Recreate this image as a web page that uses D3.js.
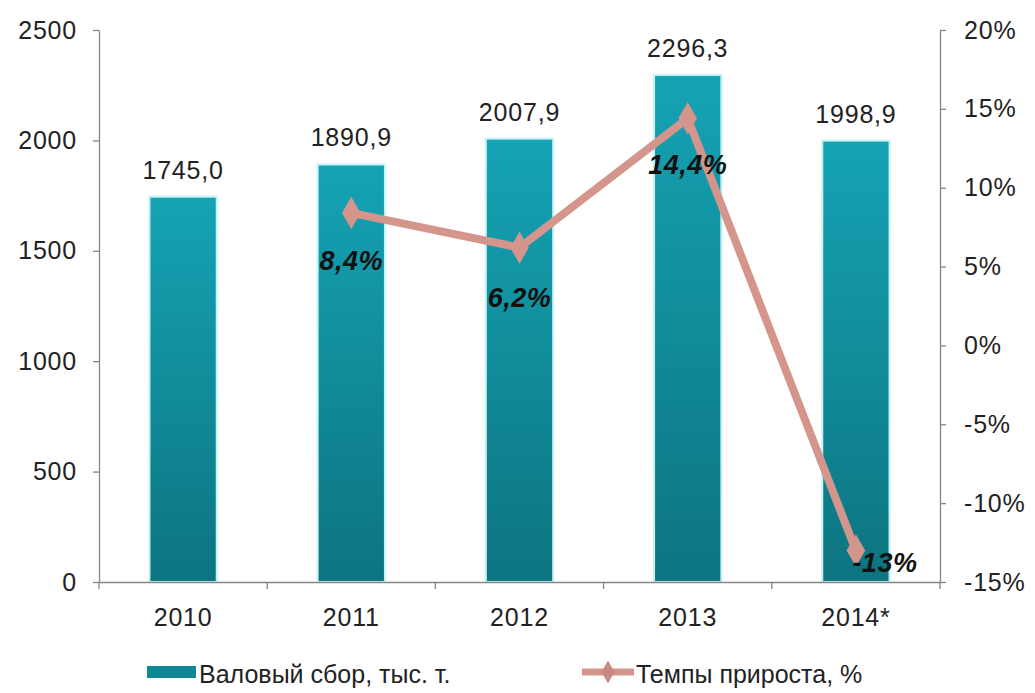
<!DOCTYPE html>
<html lang="ru">
  <head>
    <meta charset="utf-8" />
    <title>Валовый сбор</title>
    <script src="https://d3js.org/d3.v7.min.js"></script>
    <style>
      body {
        margin: 0;
        background: #fff;
      }
      svg {
        display: block;
        font-family: "Liberation Sans", Arial, sans-serif;
      }
      .axis path, .axis line {
        stroke: #868686;
        stroke-width: 1.3;
      }
      .axis text {
        font-size: 25px;
        fill: #222;
        letter-spacing: 0.8px;
      }
      .val {
        font-size: 25px;
        fill: #222;
        letter-spacing: 0.8px;
      }
      .pct {
        font-size: 27px;
        font-weight: bold;
        font-style: italic;
        fill: #111;
        letter-spacing: 0.5px;
      }
      .legend text {
        font-size: 25px;
        fill: #222;
      }
    </style>
  </head>
  <body>
    <svg width="1035" height="693"></svg>
    <script>

    var years = ["2010", "2011", "2012", "2013", "2014*"];
    var harvest = [1745.0, 1890.9, 2007.9, 2296.3, 1998.9];
    var growth = [null, 8.4, 6.2, 14.4, -13];
    var growthLabels = ["", "8,4%", "6,2%", "14,4%", "-13%"];
    var leftTicks = [0, 500, 1000, 1500, 2000, 2500];
    var rightTicks = [-15, -10, -5, 0, 5, 10, 15, 20];

    var svg = d3.select("svg"),
        plotLeft = 99, plotRight = 940, plotTop = 30, plotBottom = 582;

    var x = d3.scaleBand().domain(years).range([plotLeft, plotRight]).paddingInner(0.6).paddingOuter(0.3),
        xb = d3.scaleBand().domain(years).range([plotLeft, plotRight]),
        y = d3.scaleLinear().domain([0, 2500]).range([plotBottom, plotTop]),
        y2 = d3.scaleLinear().domain([-15, 20]).range([plotBottom, plotTop]);

    var defs = svg.append("defs");
    var grad = defs.append("linearGradient")
        .attr("id", "barGrad")
        .attr("x1", 0).attr("y1", 0).attr("x2", 0).attr("y2", 1);
    grad.append("stop").attr("offset", "0%").attr("stop-color", "#15a3b4");
    grad.append("stop").attr("offset", "100%").attr("stop-color", "#0d7480");

    // bars
    svg.append("g").selectAll("rect")
        .data(harvest)
        .enter().append("rect")
        .attr("x", function(d, i) { return x(years[i]); })
        .attr("y", function(d) { return y(d); })
        .attr("width", x.bandwidth())
        .attr("height", function(d) { return y(0) - y(d); })
        .attr("fill", "url(#barGrad)")
        .attr("stroke", "#c4f2f6")
        .attr("stroke-width", 2);

    svg.append("g").selectAll("text")
        .data(harvest)
        .enter().append("text")
        .attr("class", "val")
        .attr("x", function(d, i) { return x(years[i]) + x.bandwidth() / 2; })
        .attr("y", function(d) { return y(d) - 18; })
        .attr("text-anchor", "middle")
        .text(function(d) { return d3.format(".1f")(d).replace(".", ","); });

    // axes
    svg.append("g")
        .attr("class", "axis")
        .attr("transform", "translate(" + plotLeft + ",0)")
        .call(d3.axisLeft(y).tickValues(leftTicks).tickSize(6).tickSizeOuter(0).tickPadding(16)
          .tickFormat(d3.format("d")));

    svg.append("g")
        .attr("class", "axis")
        .attr("transform", "translate(" + plotRight + ",0)")
        .call(d3.axisRight(y2).tickValues(rightTicks).tickSize(6).tickSizeOuter(0).tickPadding(18)
          .tickFormat(function(d) { return d + "%"; }));

    var xAxis = svg.append("g")
        .attr("class", "axis")
        .attr("transform", "translate(0," + plotBottom + ")")
        .call(d3.axisBottom(xb).tickSize(0).tickSizeOuter(0).tickPadding(26));
    xAxis.selectAll(".bound")
        .data(years.concat(["end"]))
        .enter().append("line")
        .attr("class", "bound")
        .attr("x1", function(d, i) { return i < years.length ? xb(d) : plotRight; })
        .attr("x2", function(d, i) { return i < years.length ? xb(d) : plotRight; })
        .attr("y1", 0).attr("y2", 7);

    // growth line
    var pts = growth.map(function(g, i) { return {year: years[i], g: g, label: growthLabels[i]}; })
        .filter(function(d) { return d.g !== null; });

    var line = d3.line()
        .x(function(d) { return x(d.year) + x.bandwidth() / 2; })
        .y(function(d) { return y2(d.g); });

    svg.append("path")
        .datum(pts)
        .attr("d", line)
        .attr("fill", "none")
        .attr("stroke", "#d4968c")
        .attr("stroke-width", 8)
        .attr("stroke-linejoin", "round");

    var diamond = d3.symbol().type(d3.symbolDiamond).size(300);
    svg.append("g").selectAll("path")
        .data(pts)
        .enter().append("path")
        .attr("d", diamond)
        .attr("transform", function(d) {
          return "translate(" + (x(d.year) + x.bandwidth() / 2) + "," + y2(d.g) + ")";
        })
        .attr("fill", "#d4968c");

    var labelOffsets = [[0, 57], [0, 59], [0, 56], [29, 22]];
    svg.append("g").selectAll("text")
        .data(pts)
        .enter().append("text")
        .attr("class", "pct")
        .attr("x", function(d, i) { return x(d.year) + x.bandwidth() / 2 + labelOffsets[i][0]; })
        .attr("y", function(d, i) { return y2(d.g) + labelOffsets[i][1]; })
        .attr("text-anchor", "middle")
        .text(function(d) { return d.label; });

    // legend
    var legend = svg.append("g").attr("class", "legend");
    legend.append("rect")
        .attr("x", 147).attr("y", 666).attr("width", 49).attr("height", 12)
        .attr("fill", "#108894");
    legend.append("text").attr("x", 199).attr("y", 683).text("Валовый сбор, тыс. т.");
    legend.append("line")
        .attr("x1", 582).attr("x2", 634).attr("y1", 672).attr("y2", 672)
        .attr("stroke", "#d4968c").attr("stroke-width", 7);
    legend.append("path")
        .attr("d", d3.symbol().type(d3.symbolDiamond).size(150))
        .attr("transform", "translate(608,672)")
        .attr("fill", "#c88a82");
    legend.append("text").attr("x", 636).attr("y", 683).text("Темпы прироста, %");

    </script>
  </body>
</html>
